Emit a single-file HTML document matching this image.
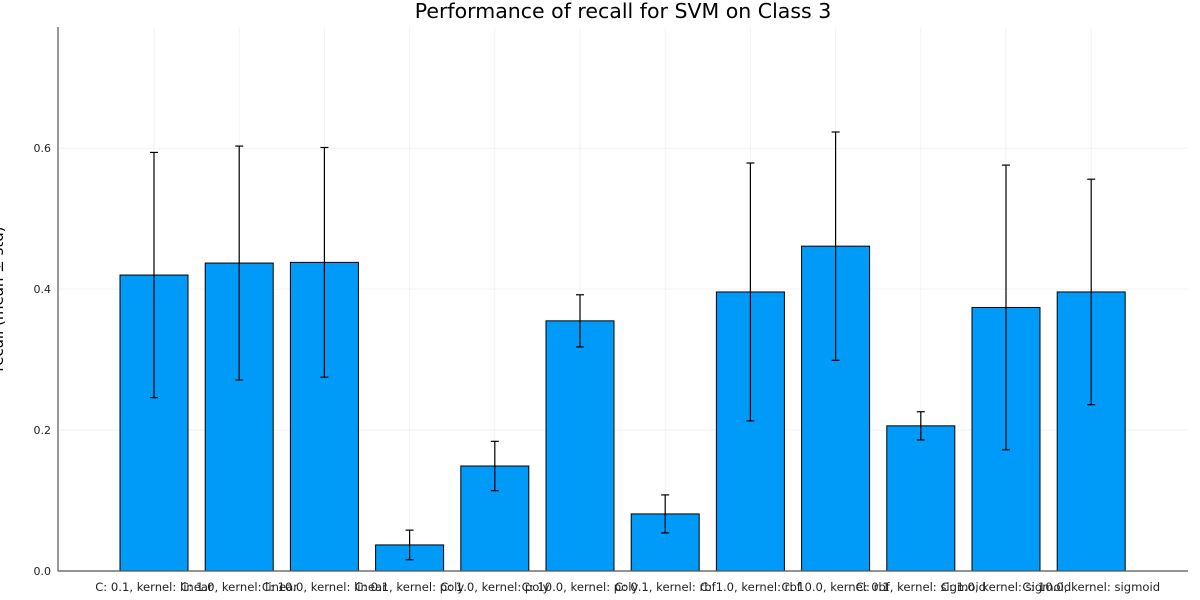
<!DOCTYPE html>
<html><head><meta charset="utf-8"><style>
body{margin:0;background:#fff;}
svg{display:block;font-family:"DejaVu Sans","Liberation Sans",sans-serif;}
</style></head><body>
<svg id="chart" width="1200" height="600"></svg>
<script>
const categories=["C: 0.1, kernel: linear","C: 1.0, kernel: linear","C: 10.0, kernel: linear","C: 0.1, kernel: poly","C: 1.0, kernel: poly","C: 10.0, kernel: poly","C: 0.1, kernel: rbf","C: 1.0, kernel: rbf","C: 10.0, kernel: rbf","C: 0.1, kernel: sigmoid","C: 1.0, kernel: sigmoid","C: 10.0, kernel: sigmoid"];
const means=[0.420,0.437,0.438,0.037,0.149,0.355,0.081,0.396,0.461,0.206,0.374,0.396];
const stds=[0.174,0.166,0.163,0.021,0.035,0.037,0.027,0.183,0.162,0.020,0.202,0.160];
const yTicks=[0.0,0.2,0.4,0.6];
const yTickLabels=["0.0","0.2","0.4","0.6"];

const NS="http://www.w3.org/2000/svg";
const svg=document.getElementById('chart');
const L=58,R=1188,T=27,B=571,yMax=0.772;
const slot=85.2, first=154;
function xs(i){return first+i*slot;}
function ys(v){return B-(v/yMax)*(B-T);}
function mk(tag,attrs,parent){const e=document.createElementNS(NS,tag);for(const k in attrs)e.setAttribute(k,attrs[k]);(parent||svg).appendChild(e);return e;}

yTicks.forEach((t,i)=>{
  const g=mk('line',{x1:L,x2:R,y1:ys(t),y2:ys(t),stroke:'#000','stroke-opacity':0.05,'stroke-width':1});
  
  
  const tx=mk('text',{x:L-7,y:ys(t)+4,'text-anchor':'end','font-size':11,fill:'#222'});
  tx.textContent=yTickLabels[i];
  
  
});
categories.forEach((c,i)=>{
  const g=mk('line',{x1:xs(i),x2:xs(i),y1:T,y2:B,stroke:'#000','stroke-opacity':0.05,'stroke-width':1});
  
  
});
const bw=68;
categories.forEach((c,i)=>{
  const b=mk('rect',{x:xs(i)-bw/2,y:ys(means[i]),width:bw,height:B-ys(means[i]),fill:'#009af9',stroke:'#000','stroke-width':1});
  
  
});
categories.forEach((c,i)=>{
  const hi=ys(means[i]+stds[i]),lo=ys(means[i]-stds[i]),x=xs(i);
  const g=mk('g',{stroke:'#000','stroke-width':1.2});
  
  
  mk('line',{x1:x,x2:x,y1:hi,y2:lo},g);
  mk('line',{x1:x-4,x2:x+4,y1:hi,y2:hi},g);
  mk('line',{x1:x-4,x2:x+4,y1:lo,y2:lo},g);
});
categories.forEach((c,i)=>{
  const t=mk('text',{x:xs(i),y:591,'text-anchor':'middle','font-size':11.6,fill:'#222'});
  t.textContent=c;
  
  
});
const ax=mk('line',{x1:L,x2:L,y1:T,y2:B,stroke:'#555','stroke-width':1.2});


const axx=mk('line',{x1:L,x2:R,y1:B,y2:B,stroke:'#555','stroke-width':1.2});


const title=mk('text',{x:623,y:18,'text-anchor':'middle','font-size':20.5,fill:'#000'});
title.textContent='Performance of recall for SVM on Class 3';


const yl=mk('text',{x:0,y:0,'text-anchor':'middle','font-size':15,fill:'#000',transform:'translate(3,299) rotate(-90)'});
yl.textContent='recall (mean ± std)';


</script>
</body></html>
